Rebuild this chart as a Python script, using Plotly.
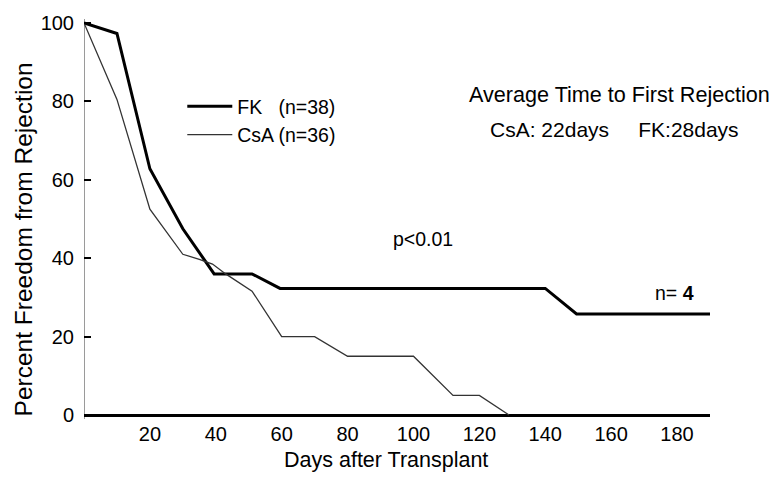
import plotly.graph_objects as go

# ---- data ----
fk_days = [0, 10, 20, 30, 39.5, 51, 59.5, 140, 149.5, 190]
fk_pct = [100, 97.3, 62.8, 47.5, 36, 36, 32.3, 32.3, 25.8, 25.8]

csa_days = [0, 10, 20, 30, 35, 39, 43, 51, 60, 70, 80, 100, 112, 120, 129]
csa_pct = [100, 80.5, 52.5, 41, 39.7, 38.5, 36, 31.6, 20, 20, 15, 15, 5, 5, 0]

x_ticks = [20, 40, 60, 80, 100, 120, 140, 160, 180]
y_ticks = [0, 20, 40, 60, 80, 100]

FONT = "Liberation Sans, Arial, Helvetica, sans-serif"

fig = go.Figure()
fig.add_trace(go.Scatter(x=fk_days, y=fk_pct, mode="lines",
                         name="FK\u00a0\u00a0\u00a0(n=38)",
                         line=dict(color="black", width=3)))
fig.add_trace(go.Scatter(x=csa_days, y=csa_pct, mode="lines",
                         name="CsA (n=36)",
                         line=dict(color="#333333", width=1.3)))

fig.update_layout(
    width=775, height=477,
    margin=dict(l=84, r=65, t=16, b=58),
    paper_bgcolor="white", plot_bgcolor="white",
    font=dict(family=FONT, color="black", size=20),
    showlegend=True,
    legend=dict(x=0.157, y=0.83, xanchor="left", yanchor="top",
                font=dict(size=19.5, family=FONT, color="black"),
                itemwidth=45,
                bgcolor="rgba(0,0,0,0)", tracegroupgap=0),
    xaxis=dict(range=[0, 190], tickvals=x_ticks, ticks="", showgrid=False,
               showline=False, zeroline=True, zerolinecolor="#9a9a9a",
               zerolinewidth=1, tickfont=dict(size=20, family=FONT),
               ticklabelstandoff=1),
    yaxis=dict(range=[-1, 101], tickvals=y_ticks, ticks="inside", ticklen=7,
               tickwidth=1.5, tickcolor="black", showgrid=False,
               showline=False, zeroline=True, zerolinecolor="black",
               zerolinewidth=2.5, tickfont=dict(size=20, family=FONT),
               ticklabelstandoff=9),
)

annos = [
    dict(text="Days after Transplant", x=0.483, y=-0.102, size=21.5),
    dict(text="Percent Freedom from Rejection", x=-0.0974, y=0.449, size=24.5,
         textangle=-90),
    dict(text="Average Time to First Rejection", x=0.856, y=0.811, size=21.6),
    dict(text="CsA: 22days\u00a0\u00a0\u00a0\u00a0\u00a0FK:28days", x=0.8475,
         y=0.7246, size=21),
    dict(text="p<0.01", x=0.5415, y=0.449, size=19.5),
    dict(text="n= <b>4</b>", x=0.9425, y=0.315, size=19.5),
]
for a in annos:
    fig.add_annotation(text=a["text"], x=a["x"], y=a["y"], xref="paper",
                       yref="paper", showarrow=False, xanchor="center",
                       yanchor="middle", textangle=a.get("textangle", 0),
                       font=dict(size=a["size"], family=FONT, color="black"))

fig.write_html("out.html")
